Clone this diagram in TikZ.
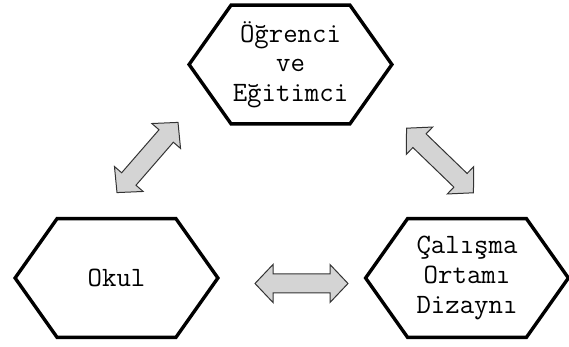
\documentclass[tikz,border=0pt]{standalone}
\usepackage{fontspec}
\usetikzlibrary{positioning}
\tikzset{
  kutu/.style={minimum width=101pt, minimum height=59pt, inner sep=0pt, align=center,
    font=\ttfamily\fontsize{14}{14.8}\selectfont},
  kenar/.style={line width=1.7pt, line join=miter},
  okucuk/.style={draw=black!80, fill=black!17, line width=0.5pt, line join=miter},
}

\begin{document}
\begin{tikzpicture}[x=0.5pt,y=-0.5pt]
\useasboundingbox (0,0) rectangle (569,347);
% hexagon boxes
\node[kutu] (ogrenci) at (290.5,64.5) {Öğrenci\\ve\\Eğitimci};
\node[kutu] (okul) at (116.5,278) {Okul};
\node[kutu] (ortam) at (467,278) {Çalışma\\Ortamı\\Dizaynı};
\foreach \n in {ogrenci,okul,ortam} {
\draw[kenar] (\n.west) -- ([xshift=21pt]\n.north west) -- ([xshift=-21pt]\n.north east)
  -- (\n.east) -- ([xshift=-21pt]\n.south east) -- ([xshift=21pt]\n.south west) -- cycle;
}
% double block arrows
\foreach \cx/\cy/\a in {147.5/157.5/49, 440/160.5/-44, 301.5/283.5/0} {
\draw[okucuk, shift={(\cx,\cy)}, rotate=\a] (-46.5,0) -- (-28.5,19) -- (-28.5,9.5)
  -- (28.5,9.5) -- (28.5,19) -- (46.5,0) -- (28.5,-19) -- (28.5,-9.5)
  -- (-28.5,-9.5) -- (-28.5,-19) -- cycle;
}
\end{tikzpicture}
\end{document}
